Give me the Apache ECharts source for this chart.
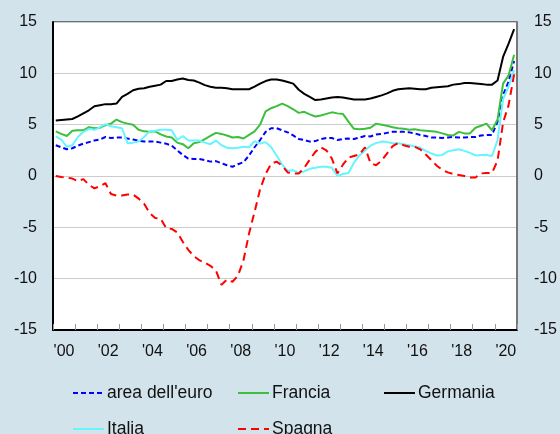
<!DOCTYPE html>
<html>
<head>
<meta charset="utf-8">
<script src="https://cdn.jsdelivr.net/npm/echarts@6/dist/echarts.min.js"></script>
<style>
  html, body { margin: 0; padding: 0; background: #d3e3ec; }
  #main { width: 560px; height: 434px; }
</style>
</head>
<body>
<div id="main"></div>
<script>
// anni sull'asse (etichette centrate nell'anno)
var years = ["'00","'01","'02","'03","'04","'05","'06","'07","'08","'09","'10",
             "'11","'12","'13","'14","'15","'16","'17","'18","'19","'20"];

// dati trimestrali 2000T1 - 2020T4
var euroArea = [3.0,2.8,2.6,2.7, 2.95,3.15,3.3,3.45, 3.55,3.8,3.7,3.75, 3.75,3.65,3.55,3.45,
  3.35,3.35,3.35,3.25, 3.15,2.95,2.5,2.05, 1.7,1.65,1.65,1.55, 1.4,1.45,1.25,1.05,
  0.9,1.15,1.35,2.0, 2.8,3.5,4.3,4.65, 4.65,4.45,4.25,3.95, 3.6,3.5,3.35,3.4,
  3.6,3.7,3.7,3.5, 3.6,3.65,3.6,3.75, 3.9,3.85,4.05,4.1, 4.2,4.3,4.3,4.3,
  4.25,4.15,4.0,3.9, 3.75,3.75,3.7,3.75, 3.8,3.75,3.75,3.8, 3.8,3.95,4.0,4.0,
  5.3,7.9,9.2,11.2];
var francia = [4.35,4.1,3.9,4.4, 4.45,4.45,4.75,4.65, 4.7,4.95,5.1,5.5, 5.25,5.1,5.0,4.5,
  4.35,4.3,4.35,4.05, 3.85,3.75,3.25,3.1, 2.7,3.2,3.3,3.6, 3.9,4.2,4.1,3.95,
  3.75,3.8,3.65,4.0, 4.35,5.0,6.3,6.6, 6.8,7.05,6.8,6.5, 6.15,6.25,6.0,5.8,
  5.9,6.05,6.2,6.1, 6.05,5.3,4.6,4.55, 4.6,4.7,5.1,5.0, 4.9,4.75,4.65,4.6,
  4.5,4.55,4.45,4.4, 4.35,4.3,4.15,4.0, 3.95,4.3,4.15,4.15, 4.7,4.9,5.1,4.45,
  5.5,9.0,9.8,11.8];
var germania = [5.4,5.45,5.5,5.55, 5.8,6.1,6.4,6.8, 6.9,7.0,7.0,7.05, 7.7,8.0,8.35,8.5,
  8.55,8.7,8.8,8.9, 9.25,9.25,9.4,9.5, 9.35,9.3,9.1,8.85, 8.7,8.6,8.6,8.55,
  8.45,8.45,8.45,8.45, 8.7,9.0,9.25,9.4, 9.4,9.3,9.15,9.0, 8.4,8.0,7.7,7.4,
  7.45,7.55,7.65,7.7, 7.65,7.55,7.45,7.45, 7.45,7.55,7.7,7.85, 8.05,8.3,8.45,8.5,
  8.55,8.5,8.45,8.45, 8.6,8.65,8.7,8.75, 8.9,8.95,9.05,9.05, 9.0,8.95,8.9,8.9,
  9.3,11.6,12.9,14.3];
var italia = [3.85,3.55,2.85,3.0, 3.8,4.3,4.6,4.5, 4.75,5.05,4.85,4.75, 4.65,3.2,3.25,3.35,
  3.8,4.35,4.4,4.5, 4.5,4.45,3.5,3.9, 3.45,3.45,3.45,3.25, 3.1,3.45,3.0,2.75,
  2.7,2.75,2.85,2.8, 3.4,3.15,3.3,2.8, 2.0,1.1,0.5,0.55, 0.3,0.45,0.7,0.8,
  0.9,0.9,0.8,0.0, 0.2,0.3,1.3,2.0, 2.5,2.95,3.2,3.35, 3.3,3.2,3.2,3.1,
  3.0,2.9,2.75,2.45, 2.2,2.0,2.05,2.4, 2.5,2.6,2.45,2.25, 2.0,2.05,2.05,1.95,
  3.5,7.5,8.7,10.3];
var spagna = [0.0,-0.1,-0.15,-0.25, -0.5,-0.3,-0.85,-1.2, -1.0,-0.7,-1.75,-1.9, -1.9,-1.8,-1.8,-2.2,
  -2.7,-3.6,-4.1,-4.15, -5.1,-5.15,-5.5,-6.4, -7.2,-7.8,-8.2,-8.45, -8.75,-9.2,-10.6,-10.1,
  -10.3,-9.7,-8.2,-5.6, -3.5,-1.3,0.2,1.2, 1.4,1.0,0.35,0.25, 0.25,0.8,1.6,2.35,
  2.8,2.5,1.7,0.25, 1.1,1.8,1.95,2.1, 2.8,1.25,1.05,1.5, 2.2,2.9,3.2,3.0,
  2.85,2.85,2.6,2.1, 1.55,1.0,0.6,0.35, 0.2,0.1,0.0,-0.15, -0.15,0.25,0.3,0.3,
  1.5,5.2,6.9,9.9];

var yTicks = { min: -15, max: 15, interval: 5 };

// posizione di ogni trimestre a metà periodo
function toPoints(arr) {
    var out = [];
    for (var i = 0; i < arr.length; i++) {
        out.push([2000 + (i + 0.5) / 4, arr[i]]);
    }
    return out;
}

var myChart = echarts.init(document.getElementById('main'));
var font = "'Liberation Sans', Arial, sans-serif";

function mkLegend(name, left, top) {
    return {
        data: [name], left: left, top: top, padding: 0,
        itemWidth: 31, itemHeight: 14, itemGap: 0,
        itemStyle: { opacity: 0 },
        textStyle: { fontFamily: font, fontSize: 17.5, color: '#111', padding: [0, 0, 0, -2] }
    };
}

function line(name, data, color, dash) {
    return {
        name: name, type: 'line', data: toPoints(data),
        xAxisIndex: 0, yAxisIndex: 0,
        symbol: 'none', animation: false,
        lineStyle: { color: color, width: 2, type: dash || 'solid' },
        itemStyle: { color: color }
    };
}

var option = {
    backgroundColor: '#d3e3ec',
    animation: false,
    grid: {
        left: 53, right: 35, top: 22, bottom: 104,
        show: true, backgroundColor: '#ffffff', borderColor: '#000', borderWidth: 1
    },
    legend: [
        mkLegend("area dell'euro", 72, 384),
        mkLegend('Francia', 237, 384),
        mkLegend('Germania', 383, 384),
        mkLegend('Italia', 72, 420),
        mkLegend('Spagna', 237, 420)
    ],
    xAxis: [
        {
            type: 'value', min: 2000, max: 2021, interval: 1,
            axisLine: { show: true, onZero: false, lineStyle: { color: '#000', width: 2 } },
            axisTick: { show: true, inside: true, length: 6, lineStyle: { color: '#999' } },
            axisLabel: { show: false },
            splitLine: { show: false }
        },
        {
            type: 'category', data: years, boundaryGap: true, position: 'bottom',
            axisLine: { show: false }, axisTick: { show: false },
            axisLabel: { interval: 1, margin: 14, fontFamily: font, fontSize: 16, color: '#111' },
            splitLine: { show: false }
        }
    ],
    yAxis: [
        {
            type: 'value', min: yTicks.min, max: yTicks.max, interval: yTicks.interval,
            position: 'left',
            axisLine: { show: true, onZero: false, lineStyle: { color: '#000', width: 2 } },
            axisTick: { show: false },
            axisLabel: { margin: 16, fontFamily: font, fontSize: 16, color: '#111' },
            splitLine: { show: true, lineStyle: { color: '#cccccc', width: 1 } }
        },
        {
            type: 'value', min: yTicks.min, max: yTicks.max, interval: yTicks.interval,
            position: 'right',
            axisLine: { show: true, onZero: false, lineStyle: { color: '#777', width: 2 } },
            axisTick: { show: false },
            axisLabel: { margin: 17, fontFamily: font, fontSize: 16, color: '#111' },
            splitLine: { show: false }
        }
    ],
    series: [
        line("area dell'euro", euroArea, '#0000ff', [5, 3]),
        line('Francia', francia, '#3cbf3c'),
        line('Germania', germania, '#000000'),
        line('Italia', italia, '#66f4ff'),
        line('Spagna', spagna, '#ff0000', [8, 5])
    ]
};
myChart.setOption(option);
</script>
</body>
</html>
